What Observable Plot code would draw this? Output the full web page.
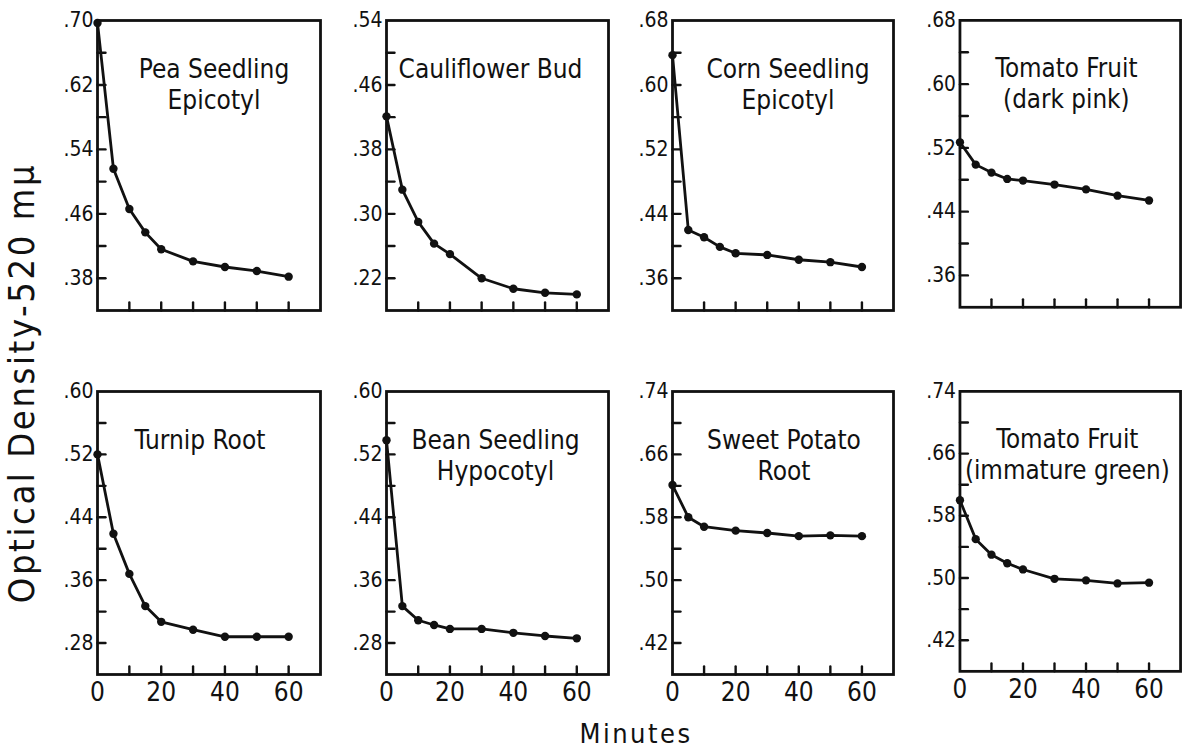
<!DOCTYPE html>
<html>
<head>
<meta charset="utf-8">
<script src="https://cdn.jsdelivr.net/npm/d3@7"></script>
<script src="https://cdn.jsdelivr.net/npm/@observablehq/plot@0.6"></script>
<style>
  html, body { margin: 0; padding: 0; background: #fff; }
  #chart { position: relative; width: 1186px; height: 752px; overflow: hidden; background: #fff;
    font-family: "DejaVu Sans Condensed", "DejaVu Sans", sans-serif; font-stretch: condensed; color: #111; }
  .panel { position: absolute; }
  .panel svg { overflow: visible; }
  #ylab { position: absolute; left: 22px; top: 383px; transform: translate(-50%, -50%) rotate(-90deg);
    white-space: nowrap; font-size: 36px; line-height: 1; letter-spacing: 2.6px; }
  #xlab { position: absolute; left: 636px; top: 733px; transform: translate(-50%, -50%);
    white-space: nowrap; font-size: 27px; line-height: 1; letter-spacing: 2.5px; }
</style>
</head>
<body>
<div id="chart">
  <div id="ylab">Optical Density-520 mμ</div>
  <div id="xlab">Minutes</div>
</div>
<script>
// ---- data ----
const minutes = [0, 5, 10, 15, 20, 30, 40, 50, 60];
const minutesNo15 = [0, 5, 10, 20, 30, 40, 50, 60];

const titles = [
  "Pea Seedling\nEpicotyl",
  "Cauliflower Bud",
  "Corn Seedling\nEpicotyl",
  "Tomato Fruit\n(dark pink)",
  "Turnip Root",
  "Bean Seedling\nHypocotyl",
  "Sweet Potato\nRoot",
  "Tomato Fruit\n(immature green)"
];

const peaSeedling      = [0.697, 0.516, 0.466, 0.437, 0.416, 0.401, 0.394, 0.389, 0.382];
const cauliflowerBud   = [0.421, 0.330, 0.290, 0.263, 0.250, 0.220, 0.207, 0.202, 0.200];
const cornSeedling     = [0.637, 0.420, 0.411, 0.399, 0.391, 0.389, 0.383, 0.380, 0.374];
const tomatoDarkPink   = [0.527, 0.499, 0.489, 0.481, 0.479, 0.474, 0.468, 0.460, 0.454];
const turnipRoot       = [0.520, 0.419, 0.368, 0.327, 0.307, 0.297, 0.288, 0.288, 0.288];
const beanSeedling     = [0.538, 0.327, 0.309, 0.303, 0.298, 0.298, 0.293, 0.289, 0.286];
const sweetPotatoRoot  = [0.621, 0.580, 0.568, 0.563, 0.560, 0.556, 0.557, 0.556];
const tomatoImmature   = [0.600, 0.550, 0.530, 0.519, 0.511, 0.499, 0.497, 0.493, 0.494];

const seriesValues = [peaSeedling, cauliflowerBud, cornSeedling, tomatoDarkPink,
                      turnipRoot, beanSeedling, sweetPotatoRoot, tomatoImmature];
const seriesMinutes = [minutes, minutes, minutes, minutes, minutes, minutes, minutesNo15, minutes];

// y-axis domains and labelled ticks per panel
const yDomains = [[0.34, 0.70], [0.18, 0.54], [0.32, 0.68], [0.32, 0.68],
                  [0.24, 0.60], [0.24, 0.60], [0.38, 0.74], [0.38, 0.74]];
const yTickLabels = [
  [0.38, 0.46, 0.54, 0.62, 0.70],
  [0.22, 0.30, 0.38, 0.46, 0.54],
  [0.36, 0.44, 0.52, 0.60, 0.68],
  [0.36, 0.44, 0.52, 0.60, 0.68],
  [0.28, 0.36, 0.44, 0.52, 0.60],
  [0.28, 0.36, 0.44, 0.52, 0.60],
  [0.42, 0.50, 0.58, 0.66, 0.74],
  [0.42, 0.50, 0.58, 0.66, 0.74]
];
const xTickLabels = [0, 20, 40, 60];
const xTickMarks = [10, 20, 30, 40, 50, 60];
const xDomain = [0, 70];

// ---- layout ----
const colLeft = [97, 386, 672, 960];
const colWidth = [223, 222, 221, 223];
const rowTop = [20, 391];
const rowHeight = [290, 283];
const titleDx = [5, -7, 5, -4, -9, -2, 1, -3];

const mL = 50, mR = 6, mT = 10, mB = 44;
const lineShape = { draw(context, l) { context.moveTo(0, 0); context.lineTo(0, -l); } };
const fmt = d => d.toFixed(2).replace(/^0/, "");

const chart = document.getElementById("chart");

for (let i = 0; i < 8; i++) {
  const row = Math.floor(i / 4), col = i % 4;
  const data = seriesMinutes[i].map((m, j) => ({ minute: m, od: seriesValues[i][j] }));
  const labels = yTickLabels[i];
  const step = (labels[1] - labels[0]) / 2;
  const yTickMarks = d3.range(labels[0], yDomains[i][1] - 1e-9, step).map(v => +v.toFixed(3));
  const isBottom = row === 1;

  const marks = [
    Plot.frame({ stroke: "#111", strokeWidth: 2.8 }),
    Plot.vector(yTickMarks, { y: d => d, frameAnchor: "left", length: 8, rotate: 90,
      anchor: "start", shape: lineShape, stroke: "#111", strokeWidth: 2.4 }),
    Plot.vector(xTickMarks, { x: d => d, frameAnchor: "bottom", length: 8, rotate: 0,
      anchor: "start", shape: lineShape, stroke: "#111", strokeWidth: 2.4 }),
    Plot.axisY({ ticks: labels, tickSize: 0, tickPadding: 4, tickFormat: fmt,
      fontSize: 21, fill: "#111" }),
    isBottom
      ? Plot.axisX({ ticks: xTickLabels, tickSize: 0, tickPadding: 8, tickFormat: d => String(d),
          fontSize: 26, fill: "#111" })
      : Plot.axisX({ ticks: [], tickSize: 0, label: null }),
    Plot.line(data, { x: "minute", y: "od", stroke: "#111", strokeWidth: 2.8 }),
    Plot.dot(data, { x: "minute", y: "od", r: 4.2, fill: "#111", stroke: "none" }),
    Plot.text([titles[i]], { text: d => d, frameAnchor: "top", dx: titleDx[i], dy: 35,
      fontSize: 26, fill: "#111", lineHeight: 1.2 })
  ];

  const plot = Plot.plot({
    width: mL + colWidth[col] + mR,
    height: mT + rowHeight[row] + mB,
    marginLeft: mL, marginRight: mR, marginTop: mT, marginBottom: mB,
    x: { domain: xDomain, label: null },
    y: { domain: yDomains[i], label: null },
    style: { fontFamily: '"DejaVu Sans Condensed", "DejaVu Sans", sans-serif', background: "transparent", color: "#111" },
    marks
  });
  const wrap = document.createElement("div");
  wrap.className = "panel";
  wrap.style.left = (colLeft[col] - mL) + "px";
  wrap.style.top = (rowTop[row] - mT) + "px";
  wrap.appendChild(plot);
  chart.appendChild(wrap);
}
</script>
</body>
</html>
